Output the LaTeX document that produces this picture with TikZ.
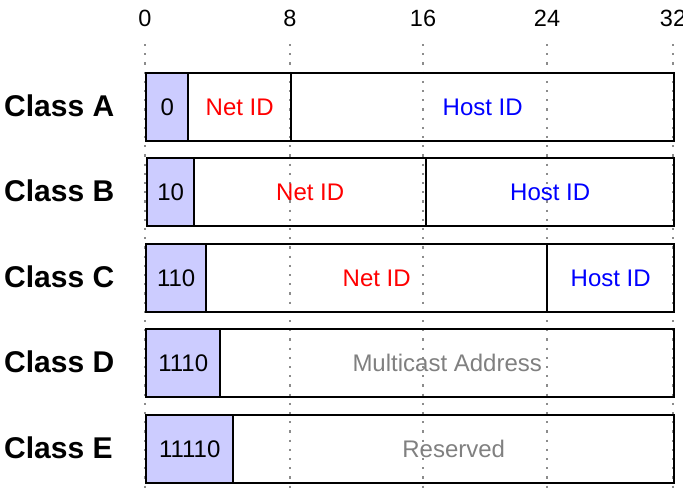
\documentclass[tikz,border=0pt]{standalone}
\usepackage{fontspec}
\setmainfont{Liberation Sans}
\begin{document}
\begin{tikzpicture}[x=1pt, y=-1pt,
    fieldbox/.style={draw, line width=2.4pt, minimum height=68pt, inner sep=0pt, anchor=north west, font=\fontsize{24}{28}\selectfont},
    prefixbox/.style={fieldbox, fill=blue!20},
    classlbl/.style={anchor=west, inner sep=0pt, font=\fontsize{30}{34}\selectfont\bfseries},
    ticklbl/.style={font=\fontsize{23.5}{27}\selectfont}]
    \useasboundingbox (0,0) rectangle (683,490);
    % bit positions
    \foreach \bit/\xpos in {0/145, 8/290, 16/423, 24/547, 32/673} {
        \node [ticklbl] (t\bit) at (\xpos,18) {\bit};
        \draw [gray!90, line width=2.2pt, dash pattern=on 2.2pt off 7pt] (\xpos,44) -- (\xpos,490);
    }
    % Class A
    \node [classlbl] (cA) at (4,106) {Class A};
    \node [prefixbox, minimum width=42pt] (aPre) at (145,72) {0};
    \node [fieldbox, minimum width=103pt, text=red] (aNet) at (187,72) {Net ID};
    \node [fieldbox, minimum width=383pt, text=blue] (aHost) at (290,72) {Host ID};
    % Class B
    \node [classlbl] (cB) at (4,191) {Class B};
    \node [prefixbox, minimum width=47pt] (bPre) at (146,157) {10};
    \node [fieldbox, minimum width=232pt, text=red] (bNet) at (193,157) {Net ID};
    \node [fieldbox, minimum width=248pt, text=blue] (bHost) at (425,157) {Host ID};
    % Class C
    \node [classlbl] (cC) at (4,277) {Class C};
    \node [prefixbox, minimum width=60pt] (cPre) at (145,243) {110};
    \node [fieldbox, minimum width=341pt, text=red] (cNet) at (205,243) {Net ID};
    \node [fieldbox, minimum width=127pt, text=blue] (cHost) at (546,243) {Host ID};
    % Class D
    \node [classlbl] (cD) at (4,362) {Class D};
    \node [prefixbox, minimum width=74pt] (dPre) at (145,328) {1110};
    \node [fieldbox, minimum width=454pt, text=gray] (dRest) at (219,328) {Multicast Address};
    % Class E
    \node [classlbl] (cE) at (4,448) {Class E};
    \node [prefixbox, minimum width=87pt] (ePre) at (145,414) {11110};
    \node [fieldbox, minimum width=441pt, text=gray] (eRest) at (232,414) {Reserved};
\end{tikzpicture}
\end{document}
